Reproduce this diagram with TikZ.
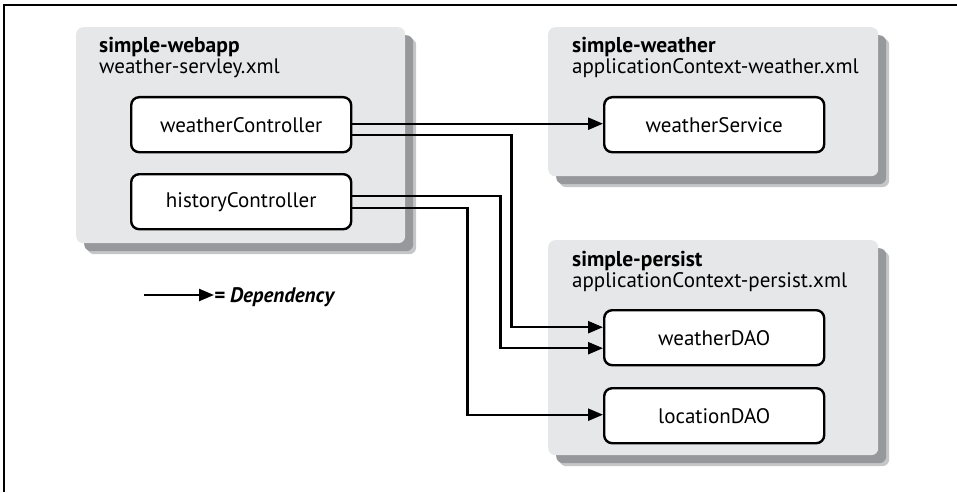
\documentclass[tikz,border=0pt]{standalone}
\usepackage{fontspec}
\setmainfont{PT Sans}
\usetikzlibrary{arrows.meta,positioning,shadows}
\definecolor{groupgray}{RGB}{230,231,232}
\definecolor{shadowgray}{RGB}{150,152,155}
\definecolor{shadowlight}{RGB}{196,198,200}

\begin{document}
\begin{tikzpicture}[x=1pt, y=-1pt, >={Triangle[length=15pt,width=12pt]}]
\tikzstyle{group}=[fill=groupgray, rounded corners=7pt, anchor=north west, inner sep=0pt,
  drop shadow={shadow xshift=11pt, shadow yshift=-11pt, fill=shadowlight, opacity=1},
  drop shadow={shadow xshift=8pt, shadow yshift=-8pt, fill=shadowgray, opacity=1}]
\tikzstyle{Lgroup}=[group, minimum width=329pt, minimum height=216pt]
\tikzstyle{Sgroup}=[group, minimum width=330pt, minimum height=149pt]
\tikzstyle{gtitle}=[anchor=base west, inner sep=0pt, font=\fontsize{21.5}{23}\selectfont\bfseries]
\tikzstyle{gfile}=[anchor=base west, inner sep=0pt, font=\fontsize{21}{23}\selectfont]
\tikzstyle{bean}=[draw, line width=2.4pt, fill=white, rounded corners=8pt, anchor=north west,
  minimum width=220pt, minimum height=55pt, text centered, font=\fontsize{21}{23}\selectfont]
\tikzstyle{dep}=[->, line width=2.4pt]

\useasboundingbox (0,0) rectangle (957,492);
\draw[line width=1.5pt] (957,5) -- (4,5) -- (4,492);

% groups
\node[Lgroup] (webapp) at (76,27) {};
\node[Sgroup] (weather) at (548,27) {};
\node[Lgroup, minimum width=330pt, minimum height=215pt] (persist) at (548,240) {};

\node[gtitle] (webappT) at (99,53) {simple-webapp};
\node[gfile] (webappF) at (99,74) {weather-servley.xml};
\node[gtitle] (weatherT) at (572,53) {simple-weather};
\node[gfile] (weatherF) at (572,74) {applicationContext-weather.xml};
\node[gtitle] (persistT) at (572,266) {simple-persist};
\node[gfile] (persistF) at (572,287) {applicationContext-persist.xml};

% beans
\node[bean] (wctrl) at (130,96) {weatherController};
\node[bean] (hctrl) at (130,173) {historyController};
\node[bean] (wsvc) at (603,96) {weatherService};
\node[bean] (wdao) at (603,309) {weatherDAO};
\node[bean] (ldao) at (603,387) {locationDAO};

% dependencies
\draw[dep] ([yshift=1pt]wctrl.east) -- ([yshift=1pt]wsvc.west);
\draw[dep] ([yshift=-10pt]wctrl.east) -- ++(159,0) |- ([yshift=10.5pt]wdao.west);
\draw[dep] ([yshift=6pt]hctrl.east) -- ++(148,0) |- ([yshift=-10.5pt]wdao.west);
\draw[dep] ([yshift=-6pt]hctrl.east) -- ++(115,0) |- ([yshift=1pt]ldao.west);

% legend
\coordinate (legA) at (144,295);
\node[anchor=west, inner sep=0pt, font=\fontsize{21}{23}\selectfont\bfseries\itshape] (legT) at (214,297) {= Dependency};
\draw[dep] (legA) -- (legA -| legT.west);
\end{tikzpicture}
\end{document}
